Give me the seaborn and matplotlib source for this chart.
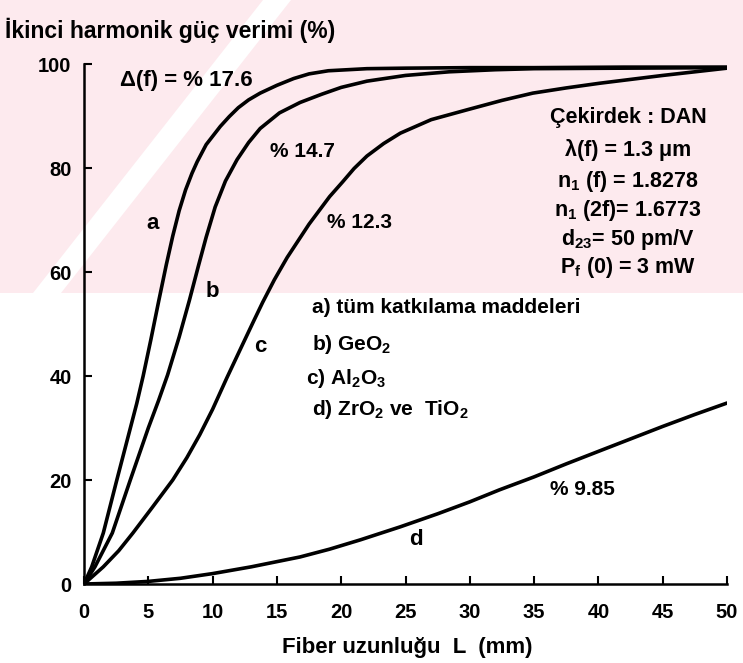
import matplotlib
matplotlib.use("Agg")
import matplotlib.pyplot as plt
from matplotlib.patches import Rectangle, Polygon
import numpy as np
import pandas as pd
import seaborn as sns

# Second-harmonic power conversion efficiency (%) vs fibre length L (mm)
L_a = [0, 0.6, 1.5, 2.5, 3.5, 4.1, 4.6, 5.2, 5.8, 6.4, 6.9, 7.4, 7.9, 8.4, 8.8, 9.5,
       10.6, 11.3, 12, 12.8, 13.7, 15, 16.3, 17.5, 19, 22, 25, 30, 35, 42, 50]
eta_a = [0, 3.3, 9.8, 19.5, 29, 34.7, 40, 47, 54.3, 61.4, 66.9, 71.8, 75.8, 79, 81.2, 84.5,
         88, 89.9, 91.6, 93.1, 94.4, 95.9, 97.2, 98.1, 98.7, 99.1, 99.2, 99.3, 99.3, 99.4, 99.4]

L_b = [0, 0.85, 2.2, 3.6, 5, 5.8, 6.5, 7.4, 8.2, 8.9, 9.5, 10.2, 11, 11.9, 12.8, 13.7,
       15.2, 16.8, 18.5, 20, 22, 25, 28.4, 32, 35, 42, 50]
eta_b = [0, 3.3, 9.8, 20, 30, 35.3, 40.2, 47.5, 54.6, 61.2, 66.7, 72.5, 77.5, 81.6, 84.9, 87.6,
         90.6, 92.6, 94.2, 95.5, 96.7, 97.8, 98.5, 98.9, 99.1, 99.2, 99.3]

L_c = [0, 1.5, 2.7, 3.8, 5.3, 6.9, 8, 9, 10, 11.1, 12.3, 13.2, 13.9, 14.8, 15.8, 17.5,
       19.1, 20.1, 21, 22, 23.3, 24.6, 27, 29.8, 32.5, 34.9, 37.5, 40.1, 45, 50]
eta_c = [0, 3.3, 6.4, 9.8, 14.7, 20, 24.3, 28.7, 33.6, 39.6, 45.9, 50.6, 54.2, 58.5, 62.8, 69.2,
         74.5, 77.3, 79.9, 82.3, 84.7, 86.7, 89.3, 91.2, 93, 94.4, 95.4, 96.3, 97.8, 99.2]

L_d = [0, 2.5, 5, 7.5, 10, 13, 16.8, 19.1, 21.5, 24.6, 27.5, 30, 32.3, 35, 37.5,
       40.1, 42.5, 45, 47.5, 50]
eta_d = [0, 0.15, 0.5, 1.1, 2.0, 3.3, 5.2, 6.7, 8.5, 11, 13.5, 15.8, 18.1, 20.6, 23.1,
         25.6, 27.9, 30.3, 32.6, 34.8]

curve_names = ["a", "b", "c", "d"]
x_ticks = list(range(0, 51, 5))
y_ticks = list(range(0, 101, 20))

frames = []
for name, xs, ys in zip(curve_names, [L_a, L_b, L_c, L_d], [eta_a, eta_b, eta_c, eta_d]):
    frames.append(pd.DataFrame({"L": xs, "eta": ys, "curve": name}))
df = pd.concat(frames, ignore_index=True)

sns.set_style("ticks")
plt.rcParams["font.family"] = ["Liberation Sans", "DejaVu Sans"]
plt.rcParams["font.weight"] = "bold"
plt.rcParams["mathtext.fontset"] = "custom"
plt.rcParams["mathtext.rm"] = "Liberation Sans:bold"
plt.rcParams["mathtext.it"] = "Liberation Sans:bold"
plt.rcParams["mathtext.bf"] = "Liberation Sans:bold"

W, H = 743, 663
fig = plt.figure(figsize=(W / 100, H / 100), dpi=100)
fig.patch.set_facecolor("white")

def fx(px):
    return px / W

def fy(py):
    return 1 - py / H

# faint background tint in the upper part of the page
fig.add_artist(Rectangle((0, fy(293)), 1, 293 / H, transform=fig.transFigure,
                         facecolor="#fdeaee", edgecolor="none", zorder=-2))
stripe = [(33, 293), (61, 293), (291, 0), (263, 0)]
fig.add_artist(Polygon([(fx(x), fy(y)) for x, y in stripe], closed=True,
                       transform=fig.transFigure, facecolor="white",
                       edgecolor="none", zorder=-1))

ax = fig.add_axes([fx(84), fy(584), (727 - 84) / W, (584 - 64) / H])
ax.set_facecolor("none")
ax.set_zorder(1)

for name in curve_names:
    sns.lineplot(data=df[df["curve"] == name], x="L", y="eta", ax=ax,
                 color="black", linewidth=2.6, sort=False, legend=False)
for line in ax.get_lines():
    line.set_solid_joinstyle("round")
    line.set_solid_capstyle("round")

ax.set_xlim(0, 50)
ax.set_ylim(0, 100)
ax.set_xticks(x_ticks)
ax.set_yticks(y_ticks)
ax.set_xlabel("")
ax.set_ylabel("")
sns.despine(ax=ax)
for s in ["left", "bottom"]:
    ax.spines[s].set_linewidth(1.8)
    ax.spines[s].set_color("black")
ax.tick_params(axis="both", direction="in", length=6, width=1.5,
               labelsize=14.5, colors="black")
ax.tick_params(axis="x", pad=14)
ax.tick_params(axis="y", pad=9)
for lab in ax.get_xticklabels() + ax.get_yticklabels():
    lab.set_fontweight("bold")

txt = dict(color="black", fontweight="bold")
ax.text(2.8, 96.9, "Δ(f) = % 17.6", ha="left", va="center", fontsize=16, **txt)
ax.text(14.45, 83.1, "% 14.7", ha="left", va="center", fontsize=15, **txt)
ax.text(18.9, 69.6, "% 12.3", ha="left", va="center", fontsize=15, **txt)
ax.text(36.2, 18.1, "% 9.85", ha="left", va="center", fontsize=15, **txt)
ax.text(5.3, 69.4, "a", ha="center", va="center", fontsize=16, **txt)
ax.text(9.95, 56.2, "b", ha="center", va="center", fontsize=16, **txt)
ax.text(13.7, 45.6, "c", ha="center", va="center", fontsize=16, **txt)
ax.text(25.8, 8.5, "d", ha="center", va="center", fontsize=16, **txt)

params = ["Çekirdek : DAN", "λ(f) = 1.3 μm", "n$_1$ (f) = 1.8278",
          "n$_1$ (2f)= 1.6773", "d$_{23}$= 50 pm/V", "P$_f$ (0) = 3 mW"]
param_y = [89.8, 83.5, 77.5, 71.9, 66.2, 60.8]
for t, yv in zip(params, param_y):
    ax.text(42.3, yv, t, ha="center", va="center", fontsize=15.5, **txt)

legend_lines = ["a) tüm katkılama maddeleri", "b) GeO$_2$", "c) Al$_2$O$_3$",
                "d) ZrO$_2$ ve  TiO$_2$"]
legend_y = [53.1, 46.0, 39.6, 33.5]
legend_x = [17.7, 17.7, 17.3, 17.7]
for t, xv, yv in zip(legend_lines, legend_x, legend_y):
    ax.text(xv, yv, t, ha="left", va="center", fontsize=15, **txt)

fig.text(fx(5), fy(30), "İkinci harmonik güç verimi (%)", ha="left", va="center",
         fontsize=16.5, **txt)
fig.text(fx(407), fy(647), "Fiber uzunluğu  L  (mm)", ha="center", va="center",
         fontsize=16, **txt)

fig.savefig("out.png", dpi=100, facecolor="white")
